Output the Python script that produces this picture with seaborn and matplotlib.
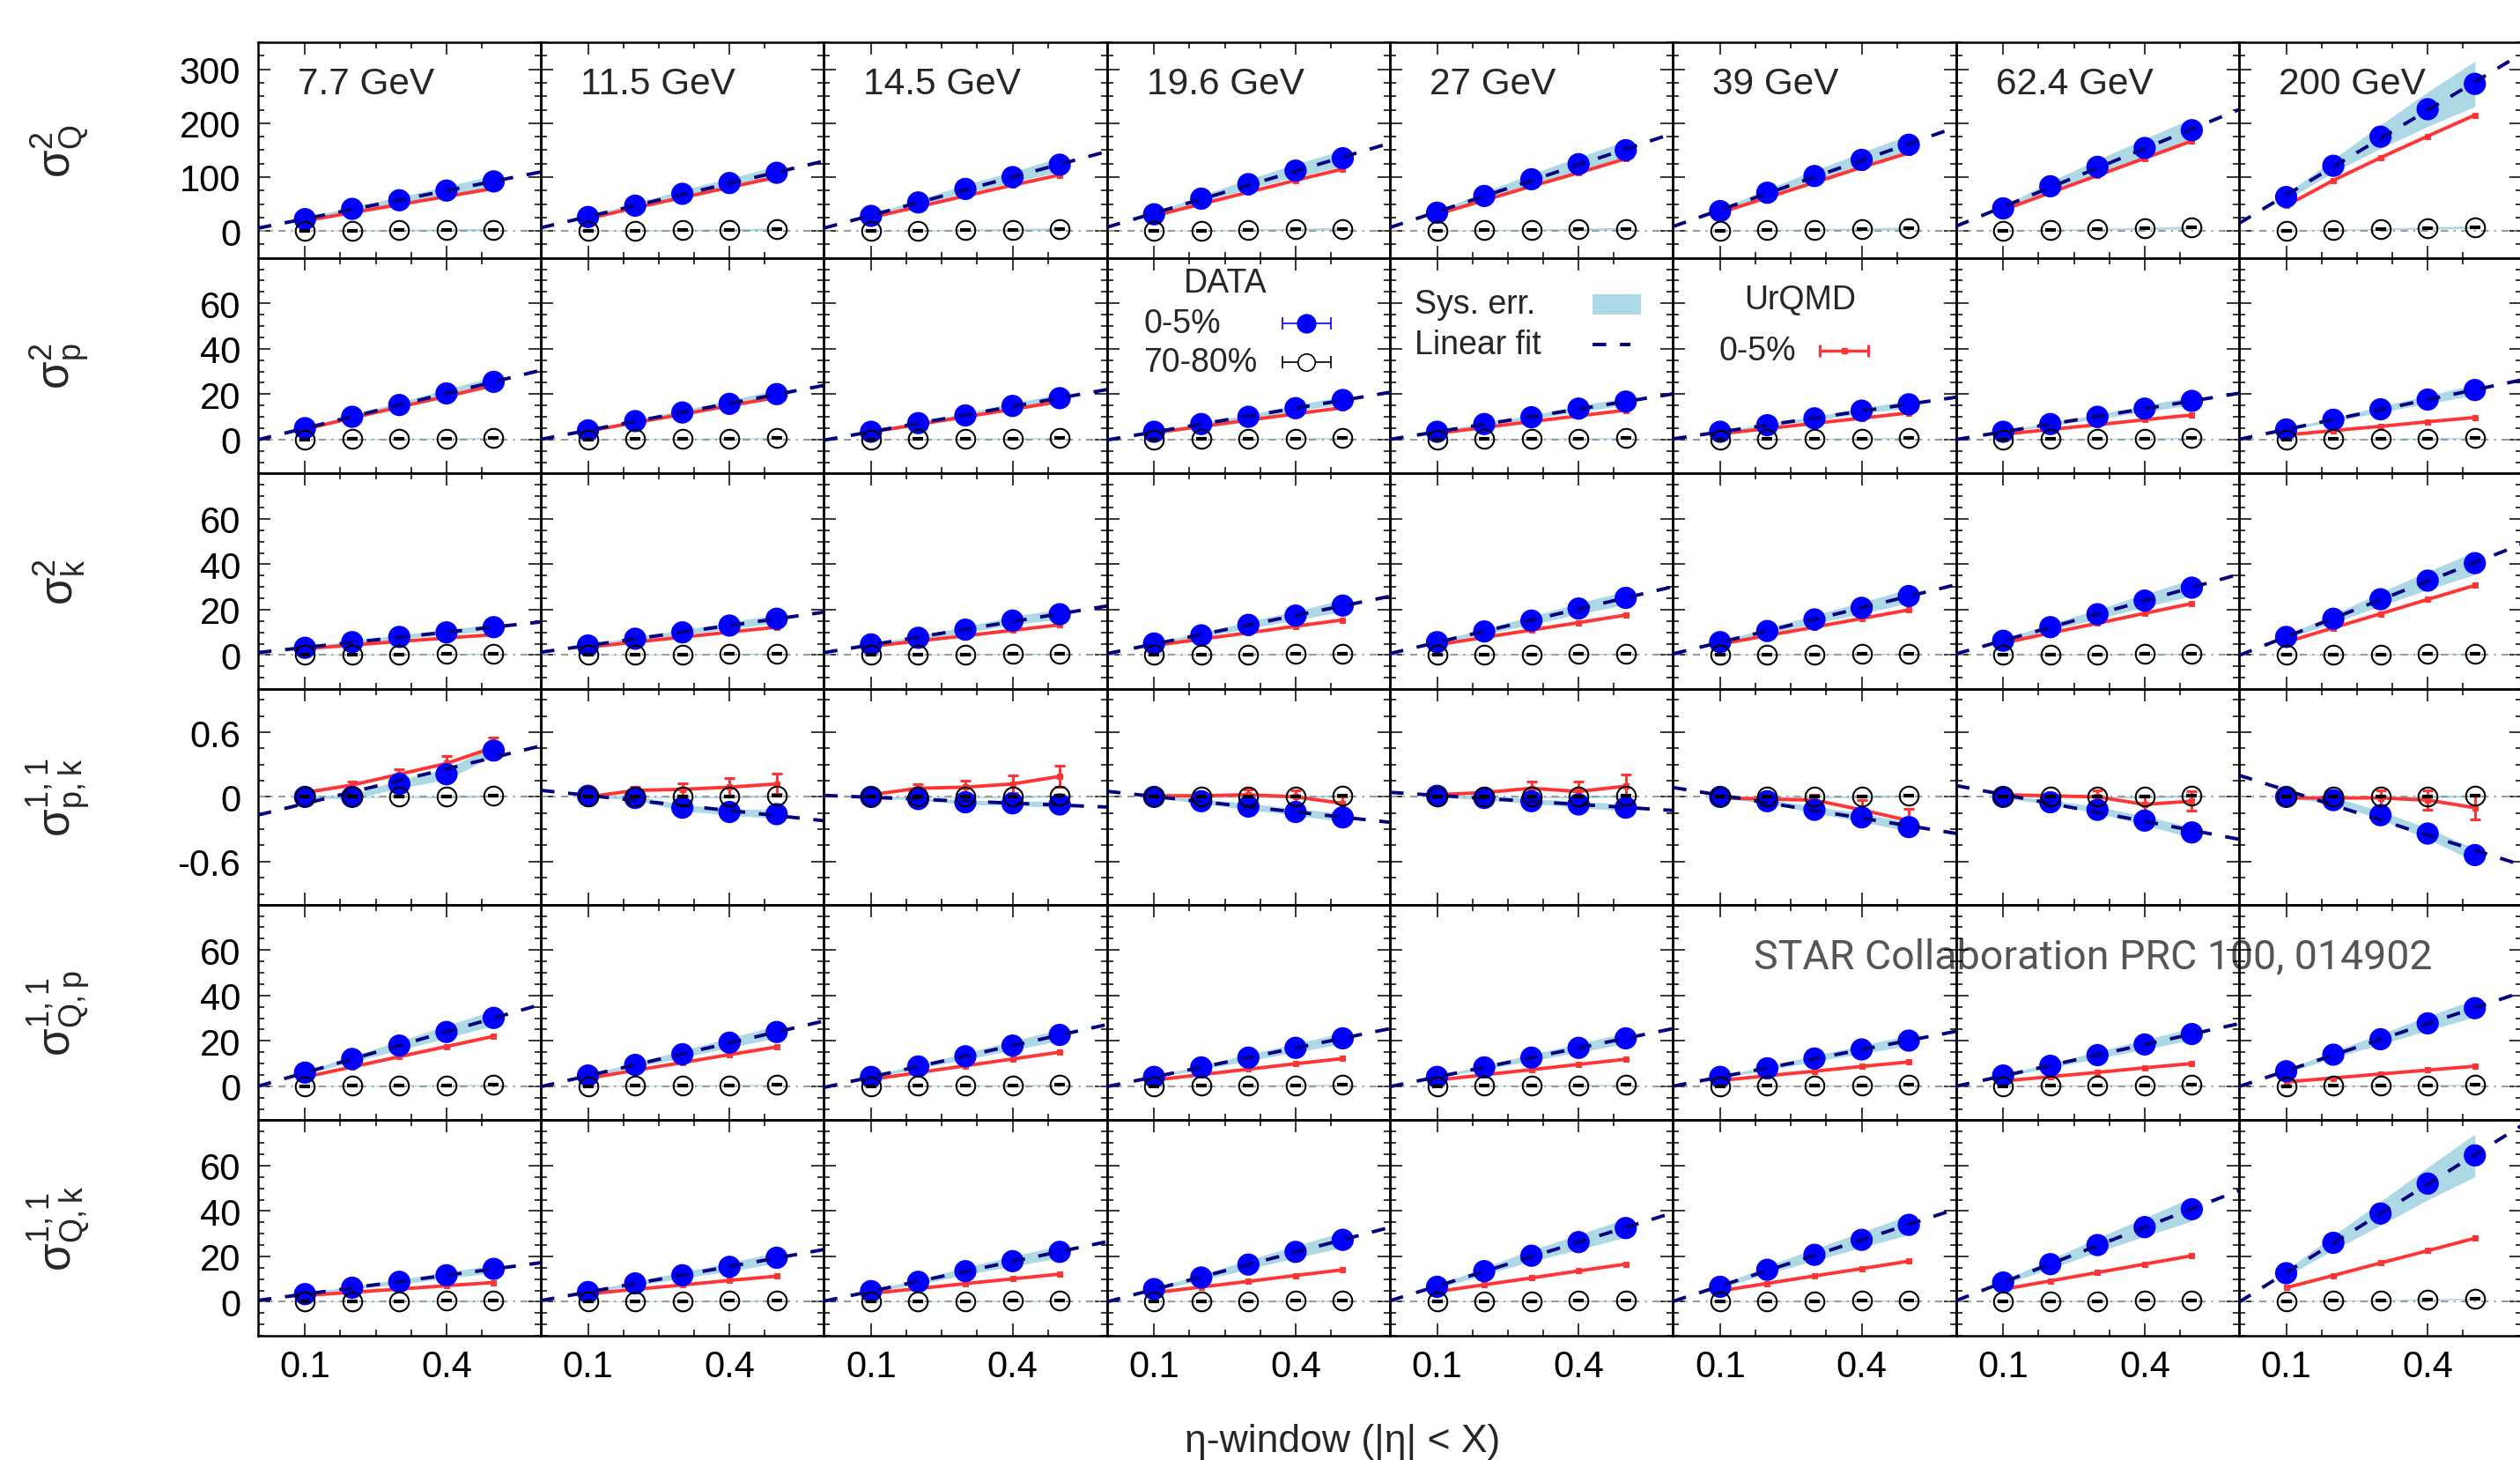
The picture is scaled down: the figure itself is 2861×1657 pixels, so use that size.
import numpy as np
import pandas as pd
import seaborn as sns
import matplotlib
matplotlib.use('Agg')
import matplotlib.pyplot as plt
from matplotlib.ticker import FixedLocator, MultipleLocator
from matplotlib.patches import Rectangle

energies = ['7.7 GeV', '11.5 GeV', '14.5 GeV', '19.6 GeV', '27 GeV', '39 GeV', '62.4 GeV', '200 GeV']
eta = [0.1, 0.2, 0.3, 0.4, 0.5]
row_labels = [r'$\sigma^{2}_{Q}$', r'$\sigma^{2}_{p}$', r'$\sigma^{2}_{k}$',
              r'$\sigma^{1,1}_{p,k}$', r'$\sigma^{1,1}_{Q,p}$', r'$\sigma^{1,1}_{Q,k}$']

# sigma^2_Q
q2_data = [[22, 41, 57, 75, 92], [26, 47, 69, 89, 108], [28, 53, 78, 100, 123], [31, 60, 87, 112, 135],
           [34, 65, 96, 124, 150], [37, 71, 102, 132, 160], [42, 83, 119, 154, 187], [63, 121, 175, 226, 273]]
q2_sys = [[2, 4, 6, 8, 11], [2, 5, 7, 9, 12], [3, 5, 8, 10, 13], [3, 6, 9, 12, 15],
          [3, 7, 10, 13, 17], [4, 7, 10, 14, 18], [4, 9, 13, 17, 22], [6, 12, 22, 32, 42]]
q2_urqmd = [[19, 34, 49, 64, 79], [23, 43, 62, 81, 100], [25, 45, 65, 85, 104], [28, 50, 72, 94, 115],
            [31, 57, 83, 108, 134], [34, 62, 90, 118, 145], [39, 71, 103, 135, 167], [47, 94, 136, 176, 215]]
q2_periph = [[0.5, 1, 1.5, 2, 2.5], [0.5, 1, 1.5, 2, 3], [0.5, 1, 2, 2.5, 3.5], [0.5, 1, 2, 3, 4],
             [0.5, 1.5, 2, 3, 4], [0.5, 1.5, 2.5, 3.5, 4.5], [1, 2, 3, 5, 6], [1, 2, 3.5, 5.5, 7]]

# sigma^2_p
p2_data = [[5, 10, 15.2, 20.3, 25.4], [4, 8.1, 11.9, 15.7, 20], [3.4, 7.2, 10.6, 14.8, 18.2], [3.4, 6.8, 10, 13.8, 17.4],
           [3.4, 6.8, 9.8, 13.6, 16.7], [3.4, 6.3, 9.3, 12.7, 15.5], [3.4, 6.8, 10, 13.6, 17], [4.4, 8.7, 13.3, 17.6, 21.8]]
p2_sys = [[0.4, 0.8, 1.3, 1.8, 2.4], [0.3, 0.7, 1.1, 1.5, 2], [0.3, 0.6, 1, 1.4, 1.8], [0.3, 0.6, 0.9, 1.3, 1.7],
          [0.3, 0.6, 0.9, 1.3, 1.7], [0.3, 0.6, 0.9, 1.2, 1.6], [0.3, 0.6, 1, 1.4, 1.8], [0.4, 0.8, 1.3, 1.8, 2.3]]
p2_urqmd = [[4.5, 9.5, 14.3, 19, 23.9], [3.7, 7.4, 11.1, 14.9, 18.6], [3.3, 6.6, 10, 13.3, 16.7], [2.9, 5.7, 8.5, 11.3, 14],
            [2.7, 5.3, 7.9, 10.4, 12.9], [2.5, 4.8, 7.1, 9.4, 11.7], [2.3, 4.4, 6.5, 8.7, 10.8], [2, 3.9, 5.8, 7.8, 9.7]]
p2_periph = [[0.1, 0.2, 0.3, 0.4, 0.5]] * 8

# sigma^2_k
k2_data = [[3.2, 5.7, 8, 10, 12.3], [4.2, 7.2, 10, 13, 16], [4.7, 7.6, 11.2, 15.2, 18], [5.1, 8.7, 13.3, 17.4, 21.8],
           [5.7, 10.4, 15.2, 20.5, 25.2], [5.7, 10.6, 15.7, 20.8, 26], [6.3, 12.3, 18, 24, 29.7], [8, 16, 24.6, 32.8, 40.5]]
k2_sys = [[0.3, 0.6, 0.9, 1.1, 1.4], [0.4, 0.8, 1.1, 1.5, 1.9], [0.4, 0.8, 1.3, 1.8, 2.2], [0.5, 1, 1.5, 2, 2.6],
          [0.6, 1.2, 1.8, 2.4, 3], [0.6, 1.2, 1.9, 2.5, 3.1], [0.7, 1.4, 2.1, 2.9, 3.6], [0.8, 1.9, 3, 4, 5]]
k2_urqmd = [[2.8, 4.4, 6, 7.5, 9], [3.5, 5.7, 7.9, 10.1, 12.3], [3.8, 6.2, 8.5, 10.9, 13.3], [4.2, 7, 9.8, 12.7, 15.5],
            [4.5, 7.8, 11, 14.3, 17.6], [4.8, 8.6, 12.3, 16.1, 19.9], [5.3, 9.7, 14, 18.4, 22.7], [5.7, 12, 18.2, 24.5, 30.7]]
k2_periph = [[0.1, 0.2, 0.3, 0.4, 0.5]] * 8

# sigma^{1,1}_{p,k}
pk_data = [[0, 0, 0.12, 0.21, 0.43], [0.01, -0.01, -0.10, -0.14, -0.16], [0, -0.02, -0.05, -0.06, -0.07],
           [0, -0.04, -0.09, -0.14, -0.19], [0.01, -0.01, -0.04, -0.07, -0.10], [0, -0.04, -0.12, -0.19, -0.28],
           [0, -0.05, -0.12, -0.22, -0.33], [0, -0.03, -0.17, -0.34, -0.54]]
pk_sys = [[0.01, 0.02, 0.04, 0.05, 0.05], [0.01, 0.02, 0.03, 0.03, 0.04], [0.01, 0.01, 0.02, 0.02, 0.03],
          [0.01, 0.02, 0.03, 0.03, 0.04], [0.01, 0.02, 0.02, 0.03, 0.03], [0.01, 0.02, 0.03, 0.04, 0.04],
          [0.01, 0.02, 0.03, 0.04, 0.05], [0.01, 0.03, 0.04, 0.05, 0.06]]
pk_urqmd = [[0.04, 0.11, 0.21, 0.31, 0.46], [0, 0.06, 0.07, 0.09, 0.12], [0.02, 0.08, 0.09, 0.12, 0.19],
            [0.01, 0.01, 0.02, 0, -0.06], [0.02, 0.04, 0.08, 0.05, 0.10], [-0.01, -0.02, -0.03, -0.12, -0.22],
            [0.02, 0.01, 0, -0.07, -0.04], [-0.01, -0.01, -0.01, -0.03, -0.10]]
pk_urqmd_err = [[0.01, 0.03, 0.05, 0.07, 0.09], [0.01, 0.03, 0.06, 0.085, 0.095], [0.01, 0.035, 0.06, 0.08, 0.10],
                [0.01, 0.03, 0.05, 0.06, 0.06], [0.01, 0.04, 0.06, 0.09, 0.11], [0.01, 0.02, 0.05, 0.09, 0.11],
                [0.01, 0.03, 0.06, 0.08, 0.09], [0.01, 0.03, 0.07, 0.09, 0.11]]
pk_periph = [[0, 0, 0, 0, 0.01]] * 8

# sigma^{1,1}_{Q,p}
qp_data = [[6, 12, 17.9, 23.9, 30.1], [4.7, 9.4, 14.1, 19.2, 23.9], [4.1, 8.7, 13.2, 17.9, 22.6], [4.1, 8.3, 12.6, 16.9, 21.1],
           [4.1, 8.3, 12.6, 16.9, 21.1], [4.1, 7.9, 12.2, 16.2, 20.1], [4.7, 9, 13.7, 18.4, 23], [6.6, 13.9, 20.7, 27.7, 34.4]]
qp_sys = [[0.6, 1.3, 2, 2.7, 3.4], [0.5, 1, 1.6, 2.1, 2.7], [0.4, 0.9, 1.4, 2, 2.5], [0.4, 0.9, 1.4, 1.9, 2.4],
          [0.4, 0.9, 1.4, 1.9, 2.4], [0.4, 0.9, 1.3, 1.8, 2.3], [0.5, 1, 1.5, 2.1, 2.6], [0.7, 1.5, 2.3, 3.1, 3.9]]
qp_urqmd = [[4, 8.5, 13, 17.5, 22], [3.5, 7, 10.4, 13.9, 17.3], [3, 6, 9, 12, 15], [2.7, 5.1, 7.5, 9.9, 12.2],
            [2.7, 5, 7.3, 9.6, 11.9], [2.5, 4.6, 6.6, 8.7, 10.7], [2.3, 4.2, 6.1, 8.1, 10], [1.9, 3.6, 5.4, 7.1, 8.8]]
qp_periph = [[0.1, 0.2, 0.3, 0.4, 0.5]] * 8

# sigma^{1,1}_{Q,k}
qk_data = [[3.4, 6.2, 8.8, 11.7, 14.5], [4.3, 8.1, 11.7, 15.4, 19.4], [4.7, 8.8, 13.5, 17.9, 22], [5.6, 10.7, 16.4, 22, 27.3],
           [6.6, 13.5, 20.3, 26.3, 32.5], [6.6, 14.1, 20.7, 27.3, 33.9], [8.5, 16.6, 25, 32.9, 40.8], [12.6, 26, 38.9, 52.1, 64.5]]
qk_sys = [[0.4, 0.7, 1, 1.4, 1.7], [0.5, 0.9, 1.4, 1.9, 2.4], [0.5, 1, 1.6, 2.2, 2.7], [0.6, 1.3, 2, 2.7, 3.4],
          [0.7, 1.6, 2.5, 3.3, 4.1], [0.7, 1.7, 2.6, 3.4, 4.3], [0.9, 2, 3.1, 4.1, 5.2], [1.3, 3.2, 5.2, 7.2, 9.4]]
qk_urqmd = [[2.8, 4.2, 5.6, 7.1, 8.5], [3.5, 5.5, 7.4, 9.4, 11.3], [3.7, 5.8, 8, 10.1, 12.2], [4, 6.5, 9, 11.6, 14.1],
            [4.5, 7.5, 10.5, 13.6, 16.6], [4.8, 8.1, 11.4, 14.6, 17.9], [5.5, 9.2, 12.9, 16.6, 20.3], [6.2, 11.6, 17.1, 22.5, 28]]
qk_periph = [[0.1, 0.2, 0.3, 0.4, 0.5]] * 7 + [[0.3, 0.5, 0.7, 1.0, 1.3]]

periph_sys = [[0.5, 1, 1.5, 2, 2.5], [0.1, 0.2, 0.2, 0.3, 0.3], [0.1, 0.2, 0.2, 0.3, 0.3],
              [0.005, 0.005, 0.005, 0.01, 0.01], [0.1, 0.2, 0.2, 0.3, 0.3], [0.1, 0.2, 0.2, 0.3, 0.3]]

ylims = [(-50, 350), (-15, 80), (-15, 80), (-1, 1), (-15, 80), (-15, 80)]
yticks = [[0, 100, 200, 300], [0, 20, 40, 60], [0, 20, 40, 60], [-0.6, 0, 0.6], [0, 20, 40, 60], [0, 20, 40, 60]]
yminor = [25, 5, 5, 0.15, 5, 5]
ytick_labels = [['0', '100', '200', '300'], ['0', '20', '40', '60'], ['0', '20', '40', '60'],
                ['-0.6', '0', '0.6'], ['0', '20', '40', '60'], ['0', '20', '40', '60']]

rows = [(q2_data, q2_sys, q2_urqmd, q2_periph), (p2_data, p2_sys, p2_urqmd, p2_periph),
        (k2_data, k2_sys, k2_urqmd, k2_periph), (pk_data, pk_sys, pk_urqmd, pk_periph),
        (qp_data, qp_sys, qp_urqmd, qp_periph), (qk_data, qk_sys, qk_urqmd, qk_periph)]

sns.set_theme(style='ticks')
plt.rcParams['font.family'] = ['Liberation Sans', 'DejaVu Sans']
plt.rcParams['mathtext.default'] = 'regular'
plt.rcParams['axes.linewidth'] = 1.8
plt.rcParams['axes.edgecolor'] = 'black'

RED = '#ff3535'
BLUE = '#0000ff'
BAND = '#add8e6'
NAVY = '#000080'

fig, axes = plt.subplots(6, 8, figsize=(28.61, 16.58), dpi=100, sharex=True, sharey='row',
                         gridspec_kw=dict(hspace=0, wspace=0))
top, bottom = 0.9704, 0.085
fig.subplots_adjust(left=0.1023, right=1.0008, top=top, bottom=bottom)

x = np.array(eta)
for r, (data, sys_, urq, per) in enumerate(rows):
    for c in range(8):
        ax = axes[r, c]
        ax.set_facecolor('none')
        d = np.array(data[c]); s = np.array(sys_[c]); u = np.array(urq[c]); pe = np.array(per[c])
        ps = np.array(periph_sys[r])
        ax.fill_between(x, d - s, d + s, color=BAND, lw=0, zorder=1)
        ax.fill_between(x, pe - ps, pe + ps, color=BAND, lw=0, zorder=1)
        ax.axhline(0, color='#9a9a9a', lw=1.5, ls=(0, (4, 3, 1, 3)), zorder=1.5)
        sns.lineplot(x=x, y=u, color=RED, lw=2.8, marker='s', markersize=5, markeredgecolor=RED,
                     ax=ax, zorder=2)
        if r == 3:
            ax.errorbar(x, u, yerr=pk_urqmd_err[c], fmt='none', ecolor=RED, elinewidth=2.2,
                        capsize=4, capthick=2.2, zorder=2)
        sns.scatterplot(x=x, y=d, color=BLUE, s=330, edgecolor='none', ax=ax, zorder=3)
        coef = np.polyfit(x, d, 1)
        xf = np.array([0.0, 0.6])
        ax.plot(xf, np.polyval(coef, xf), color=NAVY, lw=2.8, ls=(0, (4, 4)), zorder=4)
        ax.plot(x, pe, 'o', mfc='none', mec='black', ms=15.5, mew=1.5, zorder=5)
        ax.plot(x, pe, '_', color='black', ms=8, mew=3, zorder=5)

        ax.set_xlim(0, 0.6)
        ax.set_ylim(*ylims[r])
        ax.set_xlabel('')
        ax.set_ylabel('')
        ax.xaxis.set_major_locator(FixedLocator([0.1, 0.4]))
        ax.xaxis.set_minor_locator(FixedLocator([0.175, 0.25, 0.325, 0.475]))
        ax.yaxis.set_major_locator(FixedLocator(yticks[r]))
        ax.yaxis.set_minor_locator(MultipleLocator(yminor[r]))
        ax.tick_params(which='both', direction='in', top=True, right=True, width=1.1, colors='black')
        ax.tick_params(which='major', length=10, labelsize=30, pad=11)
        ax.tick_params(which='minor', length=5)
        ax.tick_params(axis='y', which='major', pad=14)
        if c == 0:
            ax.set_yticklabels(ytick_labels[r])
        if r == 0:
            ax.text(0.14, 0.81, energies[c], transform=ax.transAxes, ha='left', va='center', fontsize=30.5)

axes[-1, 0].set_xticklabels(['0.1', '0.4'])

# legend panels
leg_fs = 27
ax = axes[1, 3]
ax.text(0.42, 0.886, 'DATA', transform=ax.transAxes, ha='center', va='center', fontsize=leg_fs)
ax.text(0.13, 0.698, '0-5%', transform=ax.transAxes, ha='left', va='center', fontsize=leg_fs)
ax.text(0.13, 0.518, '70-80%', transform=ax.transAxes, ha='left', va='center', fontsize=leg_fs)
ax.plot([0.62, 0.79], [0.698, 0.698], color=BLUE, lw=1.2, transform=ax.transAxes)
ax.plot([0.62, 0.79], [0.698, 0.698], '|', color=BLUE, ms=10, mew=1.2, transform=ax.transAxes)
ax.plot([0.705], [0.698], 'o', color=BLUE, ms=16, mec='none', transform=ax.transAxes)
ax.plot([0.62, 0.79], [0.518, 0.518], color='black', lw=1.2, transform=ax.transAxes)
ax.plot([0.62, 0.79], [0.518, 0.518], '|', color='black', ms=10, mew=1.2, transform=ax.transAxes)
ax.plot([0.705], [0.518], 'o', mfc='white', mec='black', ms=14, mew=1.2, transform=ax.transAxes)

ax = axes[1, 4]
ax.text(0.086, 0.788, 'Sys. err.', transform=ax.transAxes, ha='left', va='center', fontsize=leg_fs)
ax.text(0.086, 0.60, 'Linear fit', transform=ax.transAxes, ha='left', va='center', fontsize=leg_fs)
ax.add_patch(Rectangle((0.717, 0.739), 0.171, 0.094, transform=ax.transAxes, color=BAND, lw=0))
ax.plot([0.717, 0.85], [0.60, 0.60], color=NAVY, lw=2.8, ls=(0, (4, 4)), transform=ax.transAxes)

ax = axes[1, 5]
ax.text(0.449, 0.808, 'UrQMD', transform=ax.transAxes, ha='center', va='center', fontsize=leg_fs)
ax.text(0.163, 0.571, '0-5%', transform=ax.transAxes, ha='left', va='center', fontsize=leg_fs)
ax.plot([0.52, 0.69], [0.571, 0.571], color=RED, lw=2.4, transform=ax.transAxes)
ax.plot([0.52, 0.69], [0.571, 0.571], '|', color=RED, ms=10, mew=2.2, transform=ax.transAxes)
ax.plot([0.605], [0.571], 's', color=RED, ms=5, transform=ax.transAxes)

# row labels
h = (top - bottom) / 6
for r, lab in enumerate(row_labels):
    fig.text(0.0235, top - (r + 0.5) * h, lab, rotation=90, ha='center', va='center', fontsize=37)

fig.text(0.5326, 0.0127, 'η-window (|η| < X)', ha='center', va='center', fontsize=32)
fig.text(0.696, 0.345, 'STAR Collaboration PRC 100, 014902', ha='left', va='center', fontsize=33.5,
         color='#555555', family=['Liberation Sans Narrow', 'Roboto', 'DejaVu Sans'], zorder=-1)

fig.savefig('out.png', dpi=100)
